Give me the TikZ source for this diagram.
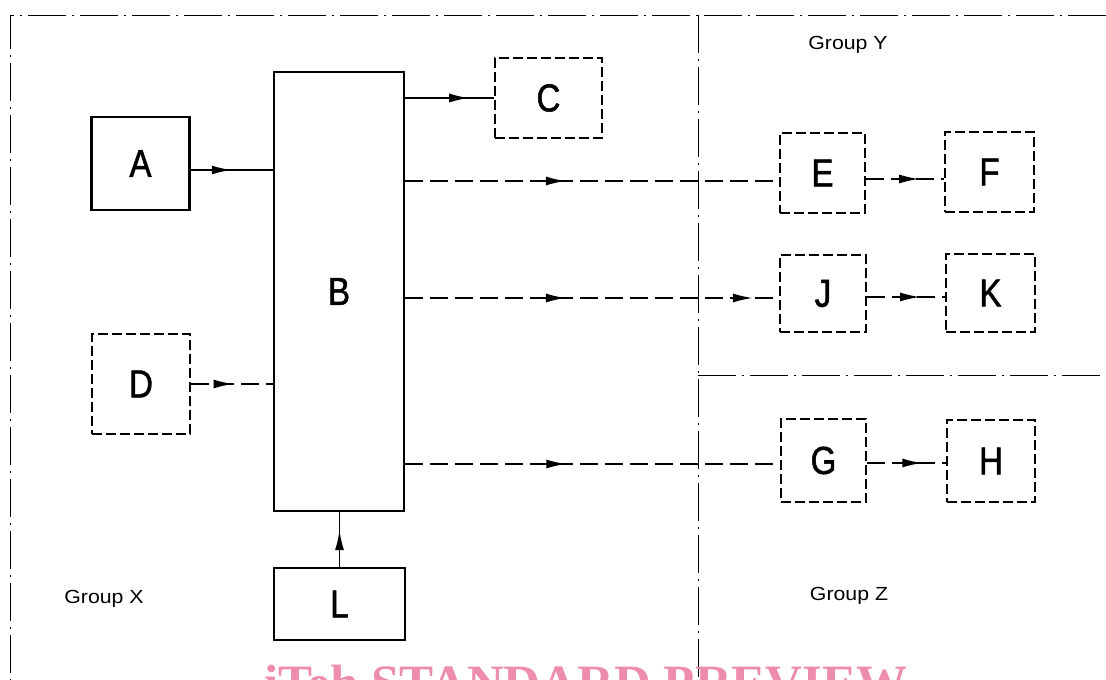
\documentclass[tikz,border=0pt]{standalone}
\usepackage{fontspec}
\setmainfont{Liberation Sans}[FakeStretch=1.12]
\newfontfamily\boxfont{Liberation Sans}[FakeStretch=0.85, FakeBold=1.3]
\newfontfamily\markfont{Liberation Serif}
\usetikzlibrary{arrows.meta,decorations.markings}
\definecolor{markpink}{RGB}{238,140,172}
\tikzset{
  solidbox/.style={draw, line width=2.2pt, inner sep=0pt, font=\boxfont\fontsize{39}{44}\selectfont},
  dashbox/.style={solidbox, line width=1.8pt, dash pattern=on 10pt off 4pt},
  link/.style={line width=1.8pt},
  dlink/.style={link, dash pattern=on 18pt off 7pt},
  midarrow/.style={postaction={decorate, decoration={markings, mark=at position #1 with {\arrow{Latex[length=20pt,width=9pt]}}}}},
  zone/.style={line width=0.9pt, dash pattern=on 38pt off 6pt on 2pt off 6pt},
  grouplabel/.style={font=\fontsize{19}{21}\selectfont}
}

\begin{document}
\begin{tikzpicture}[x=1pt,y=1pt]
    \useasboundingbox (0,0) rectangle (1106,680);

    % group borders
    \draw[zone] (1106,665) -- (10,665) -- (10,0);
    \draw[zone] (698,665) -- (698,0);
    \draw[zone] (698,305) -- (1106,305);

    % solid units
    \node[solidbox, minimum width=98, minimum height=93] (A) at (140.5,516.5) {A};
    \node[solidbox, minimum width=130, minimum height=439] (B) at (339,388.5) {B};
    \node[solidbox, minimum width=131, minimum height=72] (L) at (339.5,76) {L};

    % dashed units
    \foreach \n/\x/\y/\w/\h in {C/548.5/582/107/80, D/141/296/98/100,
        E/822.5/507/85/80, F/989.5/508/89/80,
        J/823/386.5/86/77, K/990.5/387/89/78,
        G/823.5/219.5/85/83, H/991/219/88/82} {
        \node[dashbox, minimum width=\w, minimum height=\h] (\n) at (\x,\y) {\n};
    }

    % connections into B
    \draw[link, midarrow=0.5] ([yshift=-6.5pt]A.east) -- ([yshift=-6.5pt]A.east -| B.west);
    \draw[dlink, midarrow=0.52] (D.east) -- (D.east -| B.west);
    \draw[link, midarrow=0.67] (L.north) -- (L.north |- B.south);

    % connections out of B
    \draw[link, midarrow=0.72] (C.west -| B.east) -- (C.west);
    \draw[dlink, midarrow=0.43] ([yshift=-8pt]E.west -| B.east) -- ([yshift=-8pt]E.west);
    \draw[dlink, midarrow=0.43, midarrow=0.93] ([yshift=-4.5pt]J.west -| B.east) -- ([yshift=-4.5pt]J.west);
    \draw[dlink, midarrow=0.43] ([yshift=-3.5pt]G.west -| B.east) -- ([yshift=-3.5pt]G.west);

    % second stage
    \draw[dlink, midarrow=0.68] ([yshift=-6pt]E.east) -- ([yshift=-6pt]E.east -| F.west);
    \draw[dlink, midarrow=0.68] ([yshift=-3.5pt]J.east) -- ([yshift=-3.5pt]J.east -| K.west);
    \draw[dlink, midarrow=0.7] ([yshift=-2.5pt]G.east) -- ([yshift=-2.5pt]G.east -| H.west);

    % group names
    \node[grouplabel] (groupY) at (848,635) {Group Y};
    \node[grouplabel] (groupX) at (104,81) {Group X};
    \node[grouplabel] (groupZ) at (849,84) {Group Z};

    \node[font=\markfont\bfseries\fontsize{51}{56}\selectfont, text=markpink, anchor=base] (mark) at (586,-21) {iTeh STANDARD PREVIEW};
\end{tikzpicture}
\end{document}
